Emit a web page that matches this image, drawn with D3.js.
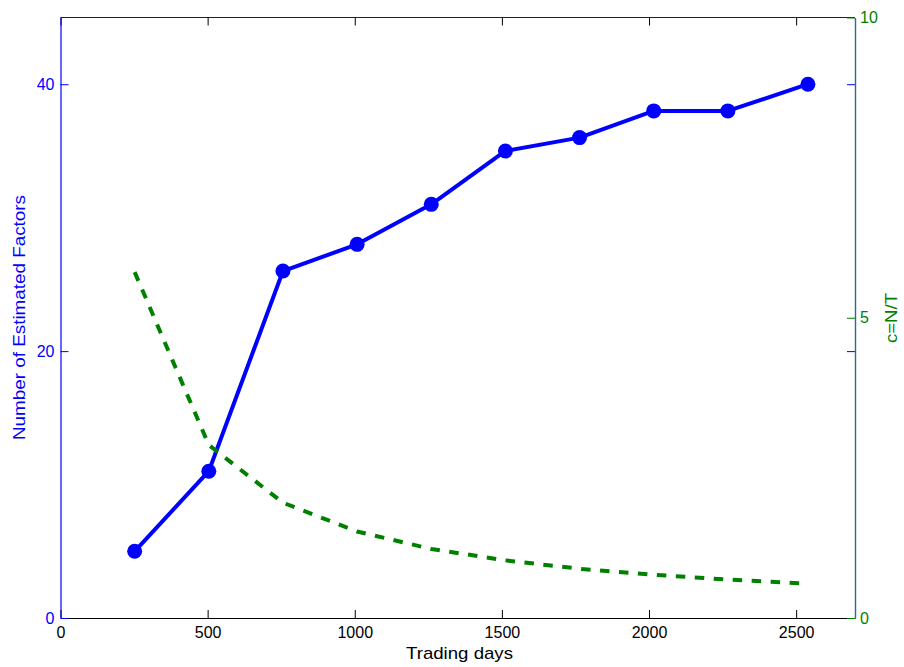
<!DOCTYPE html>
<html>
<head>
<meta charset="utf-8">
<script src="https://cdn.jsdelivr.net/npm/d3@7.9.0/dist/d3.min.js"></script>
<style>
  html, body { margin: 0; padding: 0; background: #fff; }
  svg { display: block; font-family: "Liberation Sans", Arial, Helvetica, sans-serif; }
</style>
</head>
<body>
<div id="chart"></div>
<script>
// trading days (T) for each estimation window
const days = [252, 504, 756, 1008, 1260, 1512, 1764, 2016, 2268, 2540];
// number of estimated factors (left axis)
const factors = [5, 11, 26, 28, 31, 35, 36, 38, 38, 40];
// c = N/T (right axis)
const ratio = [5.76, 2.88, 1.92, 1.44, 1.15, 0.96, 0.82, 0.72, 0.64, 0.57];

const xTicks = [0, 500, 1000, 1500, 2000, 2500];
const leftTicks = [0, 20, 40];
const rightTicks = [0, 5, 10];

const width = 904;
const height = 667;
const blue = '#0000ff';
const green = '#008000';
const tickFont = '"Liberation Sans", Arial, sans-serif';

const svg = d3.select('#chart')
  .append('svg')
  .attr('width', width)
  .attr('height', height);

svg.append('rect').attr('width', width).attr('height', height).attr('fill', '#fff');

const plot = { left: 60.5, right: 855, top: 17.5, bottom: 618 };

const x = d3.scaleLinear().domain([0, 2700]).range([plot.left, plot.right]);
const yL = d3.scaleLinear().domain([0, 45]).range([plot.bottom, plot.top]);
const yR = d3.scaleLinear().domain([0, 10]).range([plot.bottom, plot.top]);

// box top
svg.append('line')
  .attr('x1', plot.left).attr('x2', plot.right)
  .attr('y1', plot.top).attr('y2', plot.top)
  .attr('stroke', '#222').attr('stroke-width', 1.2);

// x axis (bottom), ticks pointing inside
const xAxis = svg.append('g')
  .attr('transform', `translate(0, ${plot.bottom})`)
  .call(d3.axisBottom(x).tickValues(xTicks).tickFormat(d3.format('d'))
    .tickSize(-8).tickSizeOuter(0).tickPadding(9));
xAxis.select('.domain').attr('stroke', '#000').attr('stroke-width', 1.2);
xAxis.selectAll('.tick line').attr('stroke', '#000');
xAxis.selectAll('.tick text').attr('fill', '#000')
  .style('font-size', '16px').style('font-family', tickFont);

// mirrored ticks on top
const xTop = svg.append('g')
  .attr('transform', `translate(0, ${plot.top})`)
  .call(d3.axisTop(x).tickValues(xTicks).tickSize(-8).tickSizeOuter(0).tickFormat(''));
xTop.select('.domain').remove();
xTop.selectAll('.tick line').attr('stroke', '#000');

// left axis (blue)
const leftAxis = svg.append('g')
  .attr('transform', `translate(${plot.left}, 0)`)
  .call(d3.axisLeft(yL).tickValues(leftTicks).tickSize(-8).tickSizeOuter(0).tickPadding(6));
leftAxis.select('.domain').attr('stroke', blue).attr('stroke-width', 1.2);
leftAxis.selectAll('.tick line').attr('stroke', blue);
leftAxis.selectAll('.tick text').attr('fill', blue)
  .style('font-size', '16px').style('font-family', tickFont);

// blue mirrored ticks on the right
const leftMirror = svg.append('g')
  .attr('transform', `translate(${plot.right}, 0)`)
  .call(d3.axisRight(yL).tickValues(leftTicks).tickSize(-8).tickSizeOuter(0).tickFormat(''));
leftMirror.select('.domain').remove();
leftMirror.selectAll('.tick line').attr('stroke', blue);

// right axis (green)
const rightAxis = svg.append('g')
  .attr('transform', `translate(${plot.right}, 0)`)
  .call(d3.axisRight(yR).tickValues(rightTicks).tickSize(-8).tickSizeOuter(0).tickPadding(5));
rightAxis.select('.domain').attr('stroke', '#2f6a8c').attr('stroke-width', 1.4);
rightAxis.selectAll('.tick line').attr('stroke', green);
rightAxis.selectAll('.tick text').attr('fill', green)
  .style('font-size', '16px').style('font-family', tickFont);

// axis labels
svg.append('text')
  .attr('x', 459.5).attr('y', 659)
  .attr('text-anchor', 'middle')
  .attr('font-size', 17)
  .attr('textLength', 107).attr('lengthAdjust', 'spacingAndGlyphs')
  .attr('fill', '#000')
  .text('Trading days');

svg.append('text')
  .attr('transform', 'translate(24.5, 317.5) rotate(-90)')
  .attr('text-anchor', 'middle')
  .attr('font-size', 17)
  .attr('textLength', 245).attr('lengthAdjust', 'spacingAndGlyphs')
  .attr('fill', blue)
  .text('Number of Estimated Factors');

svg.append('text')
  .attr('transform', 'translate(896.5, 318) rotate(-90)')
  .attr('text-anchor', 'middle')
  .attr('font-size', 17)
  .attr('textLength', 50).attr('lengthAdjust', 'spacingAndGlyphs')
  .attr('fill', green)
  .text('c=N/T');

const factorRows = days.map((d, i) => ({ t: d, v: factors[i] }));
const ratioRows = days.map((d, i) => ({ t: d, v: ratio[i] }));

// factors line + markers
svg.append('path')
  .datum(factorRows)
  .attr('fill', 'none')
  .attr('stroke', blue)
  .attr('stroke-width', 4)
  .attr('stroke-linejoin', 'round')
  .attr('d', d3.line().x(d => x(d.t)).y(d => yL(d.v)));

svg.append('g')
  .selectAll('circle')
  .data(factorRows)
  .join('circle')
  .attr('cx', d => x(d.t))
  .attr('cy', d => yL(d.v))
  .attr('r', 7.5)
  .attr('fill', blue);

// c = N/T dashed line
svg.append('path')
  .datum(ratioRows)
  .attr('fill', 'none')
  .attr('stroke', green)
  .attr('stroke-width', 4)
  .attr('stroke-dasharray', '9.5,9.5')
  .attr('d', d3.line().x(d => x(d.t)).y(d => yR(d.v)));
</script>
</body>
</html>
